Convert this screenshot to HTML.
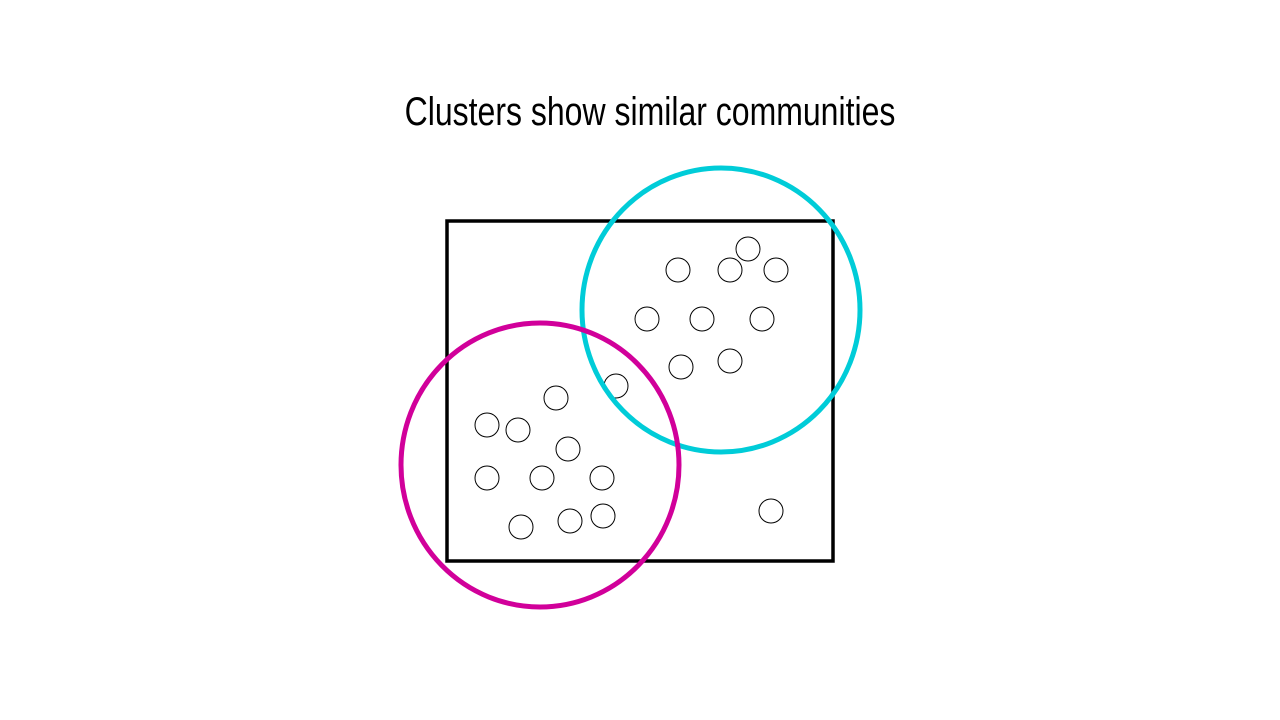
<!DOCTYPE html>
<html><head><meta charset="utf-8"><style>
html,body{margin:0;padding:0;background:#fff;width:1280px;height:720px;overflow:hidden}
</style></head><body>
<svg width="1280" height="720" viewBox="0 0 1280 720" xmlns="http://www.w3.org/2000/svg">
<text x="0" y="0" transform="translate(650,125) scale(0.80,1)" text-anchor="middle" font-family="Liberation Sans, sans-serif" font-size="40" fill="#000">Clusters show similar communities</text>
<rect x="447" y="221" width="386" height="340" fill="none" stroke="#000" stroke-width="3.5"/>
<g fill="none" stroke="#000" stroke-width="1">
<circle cx="748" cy="249" r="12"/><circle cx="678" cy="270" r="12"/><circle cx="730" cy="270" r="12"/><circle cx="776" cy="270" r="12"/>
<circle cx="647" cy="319" r="12"/><circle cx="702" cy="319" r="12"/><circle cx="762" cy="319" r="12"/>
<circle cx="681" cy="367" r="12"/><circle cx="730" cy="361" r="12"/><circle cx="616" cy="386" r="12"/>
<circle cx="556" cy="398" r="12"/><circle cx="487" cy="425" r="12"/><circle cx="518" cy="430" r="12"/><circle cx="568" cy="449" r="12"/>
<circle cx="487" cy="478" r="12"/><circle cx="542" cy="478" r="12"/><circle cx="602" cy="478" r="12"/>
<circle cx="521" cy="527" r="12"/><circle cx="570" cy="521" r="12"/><circle cx="603" cy="516" r="12"/><circle cx="771" cy="511" r="12"/>
</g>
<ellipse cx="721" cy="310" rx="139" ry="142" fill="none" stroke="#00CCD8" stroke-width="5"/>
<ellipse cx="540" cy="465" rx="139" ry="142" fill="none" stroke="#D1009A" stroke-width="5"/>
</svg>
</body></html>
